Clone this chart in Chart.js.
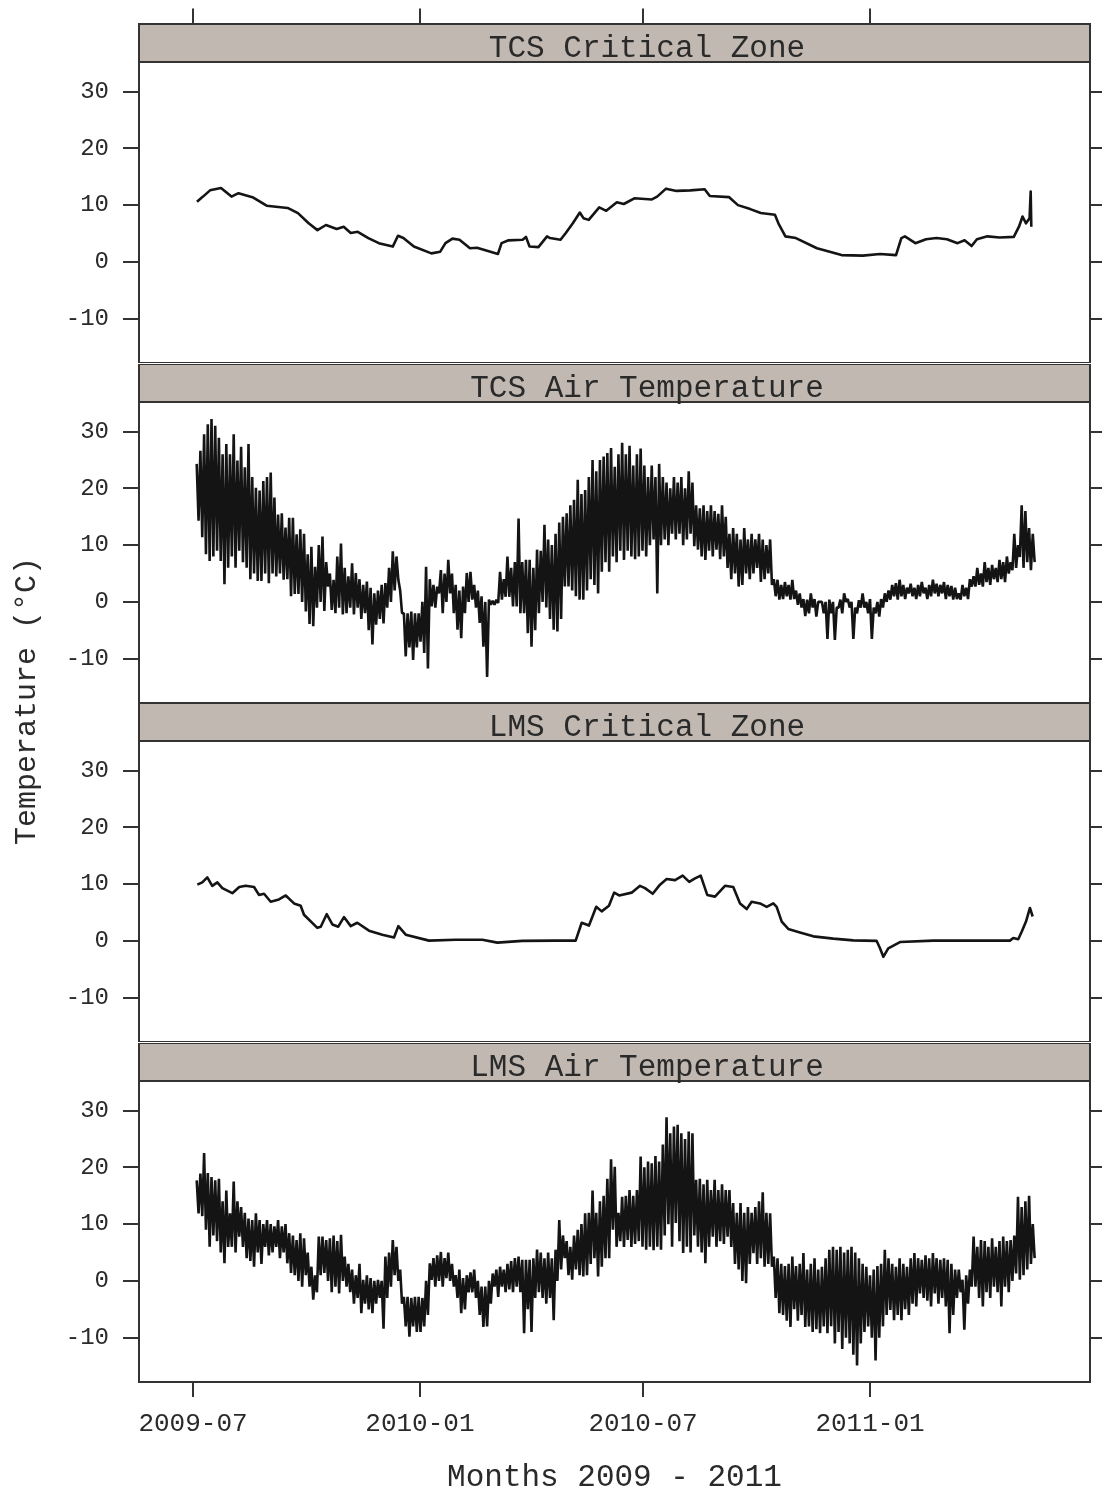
<!DOCTYPE html>
<html>
<head>
<meta charset="utf-8">
<script src="https://cdn.jsdelivr.net/npm/chart.js@4.4.1/dist/chart.umd.min.js"></script>
<style>
html, body { margin: 0; padding: 0; background: #fff; }
body { width: 1102px; height: 1495px; position: relative; overflow: hidden; }
canvas { position: absolute; left: 0; }
#ytitle {
    position: absolute; left: 27px; top: 701px;
    transform: translate(-50%, -50%) rotate(-90deg);
    font: 30px 'Liberation Mono', 'DejaVu Sans Mono', monospace;
    color: #2a2a2a; white-space: nowrap;
}
</style>
</head>
<body>
<canvas id="panel0"></canvas>
<canvas id="panel1"></canvas>
<canvas id="panel2"></canvas>
<canvas id="panel3"></canvas>
<div id="ytitle">Temperature (°C)</div>
<script>
// days counted from 2009-07-01
const xTickDays = [0, 184, 365, 549]
const xTickLabels = ["2009-07", "2010-01", "2010-07", "2011-01"]
const yTicks = [-10, 0, 10, 20, 30]
const panelTitles = ["TCS Critical Zone", "TCS Air Temperature", "LMS Critical Zone", "LMS Air Temperature"]

// TCS critical zone
const tcsZoneDays = [
    3.2, 8.1, 13.8, 22.7, 31.2, 36.9, 48.2, 59.7, 76.7, 85.1,
    93.8, 100.9, 107.8, 116.5, 122.2, 127.9, 133.6, 142.2, 150.7, 162.0,
    166.2, 170.6, 179.1, 193.3, 200.5, 204.7, 210.4, 216.1, 224.6, 230.3,
    247.3, 250.2, 255.9, 267.3, 270.0, 272.9, 280.1, 287.1, 289.5, 298.0,
    302.3, 308.0, 313.7, 316.6, 320.9, 329.4, 335.1, 343.7, 349.3, 357.9,
    372.1, 376.4, 383.6, 392.1, 403.4, 414.9, 419.1, 434.8, 441.9, 451.9,
    460.4, 471.9, 474.7, 480.4, 488.9, 506.0, 525.9, 543.1, 557.1, 570.1,
    574.4, 577.3, 585.8, 594.4, 602.9, 611.4, 620.0, 625.7, 631.4, 635.7,
    644.2, 654.1, 665.6, 669.8, 672.7, 675.5, 678.4, 679.3, 679.8
]
const tcsZoneTemp = [
    10.6, 11.5, 12.6, 13.0, 11.5, 12.1, 11.4, 9.9, 9.5, 8.6,
    6.8, 5.6, 6.5, 5.8, 6.2, 5.1, 5.3, 4.2, 3.3, 2.7,
    4.6, 4.2, 2.7, 1.5, 1.8, 3.3, 4.1, 3.9, 2.4, 2.5,
    1.4, 3.3, 3.8, 3.9, 4.4, 2.7, 2.6, 4.5, 4.2, 3.9,
    5.1, 6.8, 8.7, 7.7, 7.4, 9.6, 9.0, 10.5, 10.2, 11.2,
    11.0, 11.5, 12.9, 12.5, 12.6, 12.8, 11.6, 11.4, 10.0, 9.3,
    8.6, 8.3, 6.8, 4.5, 4.2, 2.4, 1.2, 1.1, 1.4, 1.2,
    4.2, 4.5, 3.3, 4.0, 4.2, 4.0, 3.3, 3.8, 2.8, 4.0,
    4.5, 4.3, 4.4, 6.2, 8.0, 6.8, 7.7, 12.4, 6.2
]

// LMS critical zone
const lmsZoneDays = [
    3.5, 7.5, 11.6, 15.6, 19.7, 23.8, 31.9, 37.5, 42.7, 49.5,
    53.5, 57.6, 63.0, 69.7, 75.2, 81.9, 87.3, 90.0, 100.8, 103.6,
    108.4, 113.0, 117.8, 122.4, 127.9, 133.2, 142.7, 153.5, 163.0, 166.5,
    172.5, 191.4, 213.0, 234.6, 246.8, 267.0, 294.1, 310.3, 315.2, 321.1,
    327.0, 331.4, 337.3, 341.5, 345.6, 355.7, 362.5, 366.5, 372.8, 378.7,
    384.1, 390.9, 397.1, 402.4, 407.1, 411.7, 417.0, 423.3, 431.4, 438.1,
    443.6, 449.0, 453.0, 459.8, 465.2, 470.6, 473.3, 477.4, 482.7, 492.2,
    503.0, 519.2, 535.4, 554.4, 557.1, 559.8, 563.8, 573.3, 600.3, 662.5,
    665.2, 669.2, 672.0, 675.5, 678.7, 680.9
]
const lmsZoneTemp = [
    9.9, 10.3, 11.2, 9.7, 10.3, 9.3, 8.4, 9.5, 9.7, 9.5,
    8.1, 8.3, 6.9, 7.3, 8.0, 6.6, 6.2, 4.6, 2.3, 2.5,
    4.7, 2.9, 2.5, 4.2, 2.6, 3.2, 1.8, 1.1, 0.6, 2.6,
    1.1, 0.05, 0.2, 0.2, -0.3, 0, 0.05, 0.05, 3.2, 2.7,
    6.0, 5.2, 6.2, 8.5, 8.0, 8.5, 9.7, 9.3, 8.3, 9.9,
    10.9, 10.7, 11.5, 10.4, 11.0, 11.5, 8.1, 7.8, 9.7, 9.5,
    6.6, 5.6, 6.9, 6.6, 6.0, 6.6, 6.0, 3.4, 2.1, 1.5,
    0.8, 0.4, 0.1, 0, -1.3, -2.8, -1.3, -0.2, 0.05, 0.05,
    0.5, 0.3, 1.6, 3.4, 5.8, 4.3
]

// air temperature: highs and lows of the hourly band, every 3 days from day 3
// (the low of each step is placed half a step after its high)
const airFirstDay = 3
const airStepDays = 3

const tcsAirHigh = [
    24.3, 26.6, 29.5, 31.3, 32.2, 31, 28.9, 26, 27.8, 26,
    29.5, 24.9, 27.3, 23.7, 27.8, 22, 20.1, 19.6, 21.3, 22,
    22.8, 18.4, 15.4, 15.6, 13.1, 14.8, 14.8, 11.9, 12.8, 12,
    8.4, 9.7, 6.2, 10, 11.5, 7, 5, 3.9, 8, 10.3,
    6, 4.5, 6.8, 5.1, 4, 3, 3.6, 2.5, 1.5, 2,
    3, 3.3, 6, 8.9, 8, 2, -2, -2, -1.7, -2,
    -2, 0, 6.2, 4, 3, 2.7, 5.6, 5, 7.4, 5,
    3, 2, 2.7, 5.1, 5.3, 3, 2, 1, 0, 0.4,
    0.2, 0.4, 5.3, 4, 8, 6, 7, 14.7, 7, 7.4,
    7.4, 6, 9.2, 9, 13.6, 11, 10, 12, 14, 15,
    15.6, 17, 18, 21.5, 19, 19.7, 22, 25, 23, 25,
    25.6, 26.2, 27.1, 23.8, 26, 28, 26, 27.5, 24, 26,
    27, 24, 22, 24, 22, 24.3, 22, 21, 20, 22,
    21, 22, 20, 23, 21, 17, 16.5, 17, 16, 17,
    16, 15.5, 17, 15, 12, 13, 12, 11, 13, 11,
    12, 11, 12, 11, 10, 11, 4, 3.9, 3, 3.5,
    3, 3.9, 2, 1.5, 0.5, 0.4, 1.5, 0.5, 0, 0,
    0, 0.4, 0, -1, 0.4, 1.5, 0.5, 0, -1, 0.3,
    1.5, 0, 0.5, -1, 0, 0.5, 1.5, 2, 3, 3.3,
    3.9, 3, 2.5, 3.2, 2.5, 3, 3.5, 2.5, 3, 3.9,
    3.2, 3, 3.5, 3, 2.8, 2.5, 1.5, 3, 2.5, 4,
    4.5, 6, 5, 7, 6, 6.5, 6, 7.4, 7, 8,
    7, 12, 10, 17, 16, 13, 12
]
const tcsAirLow = [
    14.3, 11.4, 8.4, 7.2, 8, 9, 7.2, 3.1, 6, 8,
    6, 9, 7, 6, 4, 5, 3.7, 3.7, 5, 3.3,
    5, 4.5, 5, 3.9, 4, 1, 1.4, 1.4, 0, -1.7,
    -3.9, -4.3, -1, 0, -1.6, 2.7, -1.4, -2, -1, -2.2,
    -2, -1, -2.2, -1, -3, -2, -5, -7.5, -4, -3,
    -3.8, -1, 0, 2, 3.9, -2, -9.6, -8, -10.2, -8,
    -7, -9, -11.7, -0.8, -1, 1.5, -2, 0, 1.5, -2,
    -4.9, -6.4, -2, 0, 0.4, -1, -3.7, -7.9, -13.2, -0.5,
    -0.5, -0.2, 0.4, 0.9, 0.9, -0.8, -0.8, -2, -2, -5.5,
    -7.9, -5, -2, 0, -1, -3, -4.9, -5.2, -3, 2.7,
    2.7, 2, 1, 0.4, 0.4, 2, 4, 3, 1.5, 5.3,
    7, 5.3, 8, 7, 9, 7.4, 9, 8, 7.5, 8,
    9, 8, 10, 11, 1.5, 10, 11, 10, 12, 11,
    12, 10, 11, 12, 9.8, 9.2, 8, 7.4, 9, 8,
    9.2, 7.5, 8, 6, 4, 5, 2.7, 3, 5, 4,
    5, 6, 3.5, 4, 5, 3, 1, 0.4, 0.5, 1,
    0.4, 0.5, -0.5, -1, -2.5, -2, -1, -2.6, 0, -2,
    -6.5, -2, -6.7, -1, -2, 0, -1, -6.5, -2, -1,
    -1, -2, -6.5, -2, -2.6, -1, 0, 0.4, 1, 0.4,
    1, 0.5, 1.5, 1, 0.5, 1, 1.5, 0.5, 1, 1.5,
    1, 1.5, 0.5, 1, 0.4, 0.5, 0.4, 1, 0.5, 2.7,
    2.7, 3, 2.7, 3.5, 3, 4, 3.5, 4, 3.5, 5,
    5.6, 6, 7.9, 6, 7, 5.6, 7
]

const lmsAirHigh = [
    17.7, 18.9, 22.5, 19, 18.3, 17.7, 18, 14, 15.9, 11.9,
    17.5, 14, 13, 12, 11, 10.7, 11.9, 10.7, 10, 10.7,
    10, 9.6, 10.7, 9.6, 10, 8.4, 8, 7.2, 8.4, 7.5,
    5, 2.5, 1, 7.8, 7.8, 7.2, 7.5, 8, 7, 8.1,
    4.3, 3, 2, 1, 3, 0.2, 1, 0.5, 0, 0.2,
    0, 4.3, 5, 7.2, 6, 2, -2.8, -2.8, -3, -2.8,
    -2.8, -3, 0, 3.1, 4, 4.5, 5.1, 4, 5, 3,
    1, 2, 0.5, 1, 1.5, 2, 0, -1, -1, 0,
    1.3, 2, 2.5, 2, 3, 3.5, 4, 4.3, 3.7, 3.7,
    3.7, 4, 5.5, 5, 4, 5, 4, 5.5, 10.7, 8,
    7, 6, 8, 9, 10, 11.9, 12, 15.9, 12, 14,
    15, 18, 21.4, 20.1, 12, 14.8, 15, 16, 15, 16,
    21.9, 20, 21, 20.7, 22, 21, 24, 28.8, 26, 27.2,
    27.5, 26, 25, 26.3, 26, 17.8, 18, 17, 17.8, 16,
    17.8, 16, 17, 16, 16, 13.7, 12, 13.7, 12, 13,
    12, 13, 14, 15.6, 12, 11.9, 4.3, 4, 3, 2.6,
    3, 4.3, 2.6, 3, 4.9, 2, 3, 4, 2, 2.5,
    4, 5.5, 6, 5.5, 6, 5, 5.5, 6, 5, 4,
    3, 2.5, 1, 2, 2.6, 3, 5.5, 4, 3, 2.5,
    4, 3, 2.5, 4, 4.9, 4, 3.7, 4.5, 4, 4.9,
    4, 3.7, 4, 3.7, 3, 2, 2, 0.2, 1, 2,
    7.8, 6, 7.2, 7, 6, 7.5, 6, 7, 7.8, 7,
    7.2, 8, 14.8, 13, 14, 15, 10
]
const lmsAirLow = [
    11.9, 11.4, 9, 6, 8, 7, 5, 3.1, 6, 6,
    5, 7.8, 6, 4, 3.5, 2.5, 5, 3, 6, 4.5,
    5, 6, 4, 5, 3.1, 1.4, 1, 0, -1, 1,
    -1, -3.3, -2, 1, 1.4, 0, -2, -1, -2.2, 0,
    -1, -2, -4, -3, -5.7, -4, -5, -5.7, -4, -3,
    -8.4, -3, -1, 1, 0, -4, -8, -9.8, -8, -9,
    -9, -8, -6, 0.2, -1, 0, -1, 0.5, 0, -1,
    -3, -5.7, -5, -2, -2, -3, -6, -8.1, -8, -4,
    -1, -2.8, -1, -2, -1.5, -2, -1, -2, -9.2, -5,
    -9, -3, -2, -3, -4, -3, -6.9, 0, 2, 4,
    1, 0.2, 2, 1, 0.8, 1, 3, 4, 0.8, 2.5,
    4, 4, 9, 6, 7, 6, 7.2, 6, 6.5, 7,
    6, 5.5, 6, 5.4, 6, 5.5, 8, 10, 6, 10.2,
    7, 4.9, 6, 5, 8, 6, 5, 3.1, 6, 7.8,
    6, 7, 6.5, 7.8, 6, 3, 2, 0, -0.4, 3,
    4.9, 3, 4, 2.5, 3, 2.5, -3, -5.7, -6, -7,
    -8.1, -5, -7, -6, -8.1, -8, -9, -8.5, -9.2, -8,
    -9.2, -8, -11, -9, -12, -10, -11, -13, -14.9, -11,
    -9, -8, -10, -14, -10, -8, -6, -5.1, -6.9, -6,
    -6.9, -5, -6, -4, -4.5, -2.2, -3, -3.5, -4.5, -2.2,
    -4, -3, -4.5, -9.2, -6, -3, -2, -8.6, -4, -1,
    -1, -3, -4.5, -2, -3, -1, -2, -4.5, -1, -2,
    0, 1.3, 0.2, 1, 2, 3, 4
]

// page geometry (not data)
const panelTops = [62, 402, 741, 1081]
const panelHeight = 301
const stripHeight = 38
const pageHeight = 1495
const stripTextCenter = 647
const axisColor = "#333333"
const textColor = "#2a2a2a"
const stripColor = "#c1b9b1"
const lineColor = "#141414"
const monoFont = "'Liberation Mono', 'DejaVu Sans Mono', monospace"

Chart.defaults.font.family = monoFont
Chart.defaults.color = textColor

function zonePoints(days, temps){
    const n = Math.min(days.length, temps.length)
    const pts = []
    for (let i = 0; i < n; i++) pts.push({x: days[i], y: temps[i]})
    return pts
}

function airPoints(highs, lows){
    const n = Math.min(highs.length, lows.length)
    const pts = []
    for (let i = 0; i < n; i++){
        const day = airFirstDay + i * airStepDays
        pts.push({x: day, y: highs[i]})
        pts.push({x: day + airStepDays / 2, y: lows[i]})
    }
    return pts
}

const panelPoints = [
    zonePoints(tcsZoneDays, tcsZoneTemp),
    airPoints(tcsAirHigh, tcsAirLow),
    zonePoints(lmsZoneDays, lmsZoneTemp),
    airPoints(lmsAirHigh, lmsAirLow)
]
const panelLineWidth = [2.6, 2.6, 2.6, 2.6]
const panelJoin = ["round", "bevel", "round", "bevel"]

const framePlugin = {
    id: "frame",
    afterDraw(chart, args, opts){
        const ctx = chart.ctx
        const a = chart.chartArea
        ctx.save()
        // strip
        ctx.fillStyle = stripColor
        ctx.fillRect(a.left, a.top - stripHeight, a.right - a.left, stripHeight)
        ctx.strokeStyle = axisColor
        ctx.lineWidth = 2
        ctx.strokeRect(a.left, a.top - stripHeight, a.right - a.left, stripHeight)
        ctx.strokeRect(a.left, a.top, a.right - a.left, a.bottom - a.top)
        ctx.fillStyle = textColor
        ctx.font = "31px " + monoFont
        ctx.textAlign = "center"
        ctx.textBaseline = "alphabetic"
        ctx.fillText(opts.title, stripTextCenter, a.top - stripHeight + 33)
        // top tick marks on the first panel
        if (opts.topTicks){
            const xs = chart.scales.x
            ctx.beginPath()
            xTickDays.forEach(function(d){
                const px = Math.round(xs.getPixelForValue(d))
                ctx.moveTo(px, a.top - stripHeight)
                ctx.lineTo(px, a.top - stripHeight - 15.5)
            })
            ctx.stroke()
        }
        ctx.restore()
    }
}

function setTicks(values){
    return function(scale){
        scale.ticks = values.map(function(v){ return {value: v} })
    }
}

function fixWidth(w){
    return function(scale){
        scale.width = w
        scale.paddingTop = 0
        scale.paddingBottom = 0
    }
}

function makePanel(i){
    const isFirst = i === 0
    const isLast = i === panelTops.length - 1
    const canvasTop = isFirst ? 0 : panelTops[i] - stripHeight
    const canvasBottom = isLast ? pageHeight : panelTops[i] + panelHeight
    const xAxisHeight = canvasBottom - (panelTops[i] + panelHeight)

    const canvas = document.getElementById("panel" + i)
    canvas.width = 1102
    canvas.height = canvasBottom - canvasTop
    canvas.style.top = canvasTop + "px"

    new Chart(
        canvas,
        {
            type: "line",
            data: {
                datasets: [{
                    data: panelPoints[i],
                    borderColor: lineColor,
                    borderWidth: panelLineWidth[i],
                    borderJoinStyle: panelJoin[i],
                    pointRadius: 0,
                    tension: 0,
                    fill: false
                }]
            },
            options: {
                responsive: false,
                animation: false,
                devicePixelRatio: 1,
                layout: {padding: {top: panelTops[i] - canvasTop, left: 0, right: 0, bottom: 0}},
                plugins: {
                    legend: {display: false},
                    tooltip: {enabled: false},
                    frame: {title: panelTitles[i], topTicks: isFirst}
                },
                scales: {
                    x: {
                        type: "linear",
                        min: -43.8,
                        max: 727.4,
                        display: isLast,
                        afterBuildTicks: setTicks(xTickDays),
                        afterFit: function(scale){ scale.height = xAxisHeight },
                        border: {display: false},
                        grid: {
                            drawOnChartArea: false,
                            drawTicks: true,
                            tickLength: 15,
                            color: axisColor,
                            lineWidth: 2
                        },
                        ticks: {
                            autoSkip: false,
                            maxRotation: 0,
                            padding: 12,
                            color: textColor,
                            font: {size: 26},
                            callback: function(v){
                                const k = xTickDays.indexOf(v)
                                return k >= 0 ? xTickLabels[k] : ""
                            }
                        },
                        title: {
                            display: true,
                            text: "Months 2009 - 2011",
                            color: textColor,
                            font: {size: 31, lineHeight: 1},
                            padding: {top: 0, bottom: 2}
                        }
                    },
                    y: {
                        type: "linear",
                        position: "left",
                        min: -17.8,
                        max: 35.2,
                        afterBuildTicks: setTicks(yTicks),
                        afterFit: fixWidth(139),
                        border: {display: false},
                        grid: {
                            drawOnChartArea: false,
                            drawTicks: true,
                            tickLength: 16,
                            color: axisColor,
                            lineWidth: 2
                        },
                        ticks: {
                            padding: 14,
                            color: textColor,
                            font: {size: 24}
                        }
                    },
                    yRight: {
                        type: "linear",
                        position: "right",
                        min: -17.8,
                        max: 35.2,
                        afterBuildTicks: setTicks(yTicks),
                        afterFit: fixWidth(12),
                        border: {display: false},
                        grid: {
                            drawOnChartArea: false,
                            drawTicks: true,
                            tickLength: 12,
                            color: axisColor,
                            lineWidth: 2
                        },
                        ticks: {display: false}
                    }
                }
            },
            plugins: [framePlugin]
        }
    )
}

for (let i = 0; i < panelTops.length; i++) makePanel(i)
</script>
</body>
</html>
